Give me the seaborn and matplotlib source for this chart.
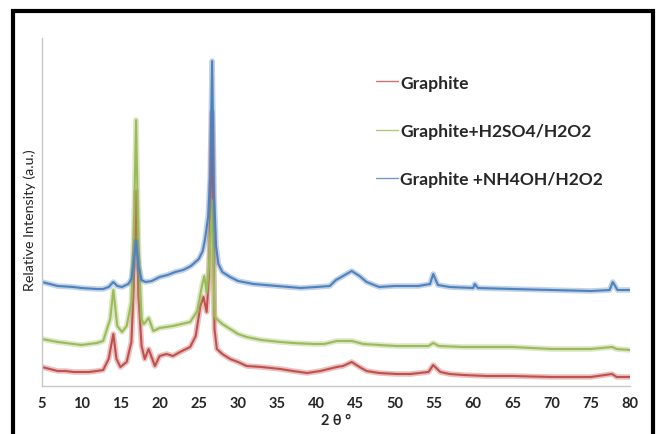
import matplotlib
matplotlib.use("Agg")
import matplotlib.pyplot as plt
import seaborn as sns
from matplotlib.patches import Rectangle

# XRD patterns, intensity (arbitrary units)
tt_graphite = [5, 6, 7, 8, 9, 10, 11, 12, 12.8, 13.5, 14.1, 14.5, 15.0, 15.8, 16.4, 16.7, 17.0, 17.3,
               17.7, 18.1, 18.6, 19.4, 20.0, 20.9, 21.7, 22.6, 23.9, 24.6, 25.2, 25.6, 26.0, 26.3, 26.7,
               27.0, 27.3, 28.0, 29.0, 30.0, 31.1, 33.0, 35.4, 37.0, 38.8, 40.5, 42.6, 43.4, 44.5, 45.5,
               46.4, 48.0, 50.2, 52.0, 54.3, 54.9, 55.8, 57.0, 58.7, 61.7, 65, 70, 75, 77.7, 78.3, 80]
i_graphite = [19, 17, 15, 15, 14, 14, 14, 15, 16, 27, 52, 27, 19, 24, 44, 100, 195, 90,
              40, 27, 37, 20, 30, 32, 30, 34, 39, 50, 80, 89, 74, 110, 274,
              57, 37, 32, 27, 24, 20, 19, 17, 15, 13, 15, 19, 20, 24, 19,
              15, 13, 12, 12, 14, 21, 14, 12, 11, 10, 10, 9, 9, 12, 9, 9]

tt_h2so4 = [5, 7, 9, 10, 12, 12.8, 13.7, 14.1, 14.6, 15.2, 15.8, 16.4, 16.7, 17.0, 17.3, 17.7, 18.0,
            18.6, 19.2, 20, 21.7, 23.9, 24.8, 25.4, 25.7, 26.0, 26.3, 26.7, 27.0, 27.3, 28, 29.0, 30,
            31.1, 33, 35.4, 37, 39.6, 41, 42.6, 43.4, 44.5, 46, 48, 50.2, 52, 54.3, 54.9, 55.6, 58.7,
            61.7, 65, 70, 75, 77.7, 78.3, 80]
i_h2so4 = [47, 44, 42, 41, 43, 45, 67, 96, 60, 54, 60, 84, 150, 266, 140, 67, 62,
           68, 55, 58, 60, 64, 75, 100, 110, 94, 120, 185, 70, 67, 62, 57, 52,
           49, 46, 44, 43, 42, 42, 45, 45, 45, 42, 41, 40, 40, 40, 43, 40, 39,
           39, 39, 37, 37, 39, 37, 36]

tt_nh4oh = [5, 7, 9, 10, 12, 12.8, 13.5, 14.1, 14.6, 15.2, 16.0, 16.4, 16.7, 17.0, 17.3, 17.7, 18.2,
            19, 20, 21, 22, 23, 24, 25, 25.5, 25.8, 26.2, 26.45, 26.7, 26.95, 27.2, 27.5, 28, 29, 30,
            32, 35, 38, 40, 41.7, 42.5, 43.4, 44.5, 45.5, 46.4, 48, 50, 53, 54.5, 54.9, 55.5, 57, 60,
            60.2, 60.6, 65, 70, 75, 77.4, 77.8, 78.4, 80]
i_nh4oh = [104, 100, 99, 98, 97, 97, 99, 104, 100, 99, 102, 107, 125, 145, 120, 106, 104,
           105, 109, 111, 114, 116, 120, 127, 135, 147, 170, 210, 325, 190, 140, 122, 114, 109, 105,
           102, 100, 98, 99, 100, 106, 110, 115, 110, 104, 99, 100, 100, 102, 112, 101, 99, 98,
           102, 98, 97, 96, 95, 96, 104, 96, 96]

labels = ["Graphite", "Graphite+H2SO4/H2O2", "Graphite +NH4OH/H2O2"]
colors = ["#C0504D", "#9BBB59", "#4F81BD"]
x_ticks = list(range(5, 81, 5))

sns.set_style("white")
plt.rcParams['font.family'] = ['Lato', 'DejaVu Sans']

fig = plt.figure(figsize=(6.57, 4.35), dpi=100)
ax = fig.add_axes([42 / 657, 48 / 435, 588 / 657, 348 / 435])

series = [(tt_graphite, i_graphite), (tt_h2so4, i_h2so4), (tt_nh4oh, i_nh4oh)]
for (tt, inten), lab, col in zip(series, labels, colors):
    # soft wide band under the trace, like the noisy scan
    sns.lineplot(x=tt, y=inten, color=col, lw=4, alpha=0.35, ax=ax, sort=False)
    sns.lineplot(x=tt, y=inten, color=col, lw=1.5, label=lab, ax=ax, sort=False)

ax.set_xlim(5, 80)
ax.set_ylim(0, 348)
ax.set_xticks(x_ticks)
ax.set_xticklabels([str(t) for t in x_ticks], fontweight='bold', fontsize=10.5)
ax.set_yticks([])
ax.tick_params(axis='x', direction='out', length=4, width=0.8, color='#BFBFBF', pad=3.5)
for side in ['top', 'right']:
    ax.spines[side].set_visible(False)
for side in ['left', 'bottom']:
    ax.spines[side].set_color('#C8C8C8')
    ax.spines[side].set_linewidth(1)

ax.set_xlabel("2 θ °", fontweight='bold', fontsize=10.5)
ax.xaxis.set_label_coords(0.5, -0.078)
ax.set_ylabel("Relative Intensity (a.u.)", fontsize=10.3)
ax.yaxis.set_label_coords(-0.010, 0.48)

leg = ax.legend(loc='upper left', bbox_to_anchor=(0.568, 0.895), frameon=False,
                prop={'weight': 'bold', 'size': 12.6}, handlelength=1.25, handletextpad=0.15,
                labelspacing=1.85, borderpad=0, borderaxespad=0)
for h in leg.get_lines():
    h.set_linewidth(1)
    h.set_alpha(0.8)

# black outer frame
fig.patches.append(Rectangle((13 / 657, -0.2), 640 / 657, (435 - 12) / 435 + 0.2,
                             transform=fig.transFigure, fill=False, edgecolor='black',
                             linewidth=3, zorder=10))

fig.savefig("out.png", dpi=100)
